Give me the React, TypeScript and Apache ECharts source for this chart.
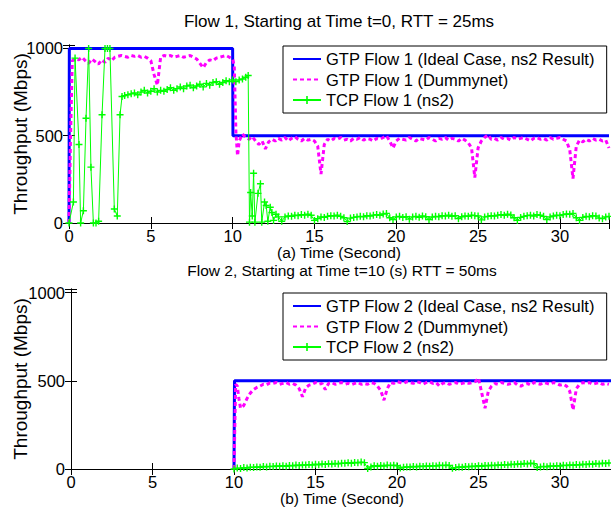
import React, { useEffect, useRef } from "react";
import * as echarts from "echarts";

// ---------- data (Mbps vs seconds) ----------
const STEP = 0.2; // sampling step of the regularly sampled segments
const xTickLabels = [0, 5, 10, 15, 20, 25, 30];
const yTickLabels = [0, 500, 1000];

const NAMES1 = [
  "GTP Flow 1 (Ideal Case, ns2 Result)",
  "GTP Flow 1 (Dummynet)",
  "TCP Flow 1 (ns2)",
];
const NAMES2 = [
  "GTP Flow 2 (Ideal Case, ns2 Result)",
  "GTP Flow 2 (Dummynet)",
  "TCP Flow 2 (ns2)",
];

// Flow 1
const ideal1: number[][] = [[0, 0], [0.02, 1000], [10.0, 1000], [10.02, 500], [33, 500]];
const dummy1Head: number[][] = [[0, 0], [0.1, 520], [0.2, 930]];
const dummy1AStart = 0.4;
const dummy1A = [
  940, 935, 950, 930, 915, 940, 925, 910, 935, 920,
  945, 930, 950, 955, 960, 955, 950, 960, 955, 960,
  950, 955, 945, 930, 850, 790, 950, 960, 955, 960,
  950, 955, 960, 950, 955, 960, 950, 940, 915, 890,
  920, 935, 930, 945, 950, 955, 960, 950, 940,
];
const dummy1Mid: number[][] = [[10.1, 900], [10.2, 520], [10.3, 385], [10.4, 470], [10.6, 510]];
const dummy1BStart = 10.8;
const dummy1B = [
  490, 480, 495, 470, 450, 470, 425, 465, 480, 470,
  485, 475, 490, 470, 485, 495, 480, 470, 485, 475,
  480, 470, 440, 280, 450, 480, 470, 485, 480, 490,
  475, 480, 470, 485, 480, 490, 475, 485, 480, 470,
  485, 480, 490, 500, 470, 430, 470, 485, 480, 475,
  490, 480, 470, 485, 480, 475, 490, 480, 470, 485,
  480, 490, 475, 485, 480, 470, 485, 475, 460, 430,
  260, 430, 470, 490, 505, 480, 485, 475, 490, 480,
  485, 475, 490, 480, 485, 490, 480, 470, 485, 490,
  480, 485, 475, 490, 480, 485, 490, 480, 470, 420,
  255, 440, 475, 465, 480, 470, 485, 475, 480, 470,
  475, 430,
];
const tcp1Head: number[][] = [
  [0, 0], [0.27, 120], [0.37, 945], [0.61, 450], [0.71, 0], [0.88, 70],
  [1.04, 600], [1.2, 1000], [1.34, 320], [1.49, 0], [1.65, 0], [1.81, 10],
  [2.02, 620], [2.2, 1000], [2.35, 1000], [2.5, 1000], [2.77, 80], [2.95, 40],
  [3.12, 620], [3.24, 725],
];
const tcp1AStart = 3.4;
const tcp1A = [
  730, 735, 740, 745, 735, 750, 760, 745, 755, 770,
  750, 760, 755, 765, 775, 760, 770, 780, 770, 785,
  790, 775, 785, 795, 780, 800, 790, 805, 810, 795,
  805, 815, 810, 820, 810, 820, 825, 835,
];
const tcp1Mid: number[][] = [
  [10.95, 845], [11.03, 5], [11.1, 175], [11.2, 40], [11.28, 285], [11.36, 5],
  [11.55, 170], [11.7, 225], [11.78, 5], [11.95, 120], [12.05, 100], [12.15, 10],
  [12.3, 90], [12.4, 60], [12.5, 15], [12.65, 50], [12.8, 35],
];
const tcp1BStart = 13.0;
const tcp1B = [
  10, 35, 40, 38, 45, 42, 48, 45, 50, 44,
  15, 25, 35, 32, 38, 42, 40, 45, 38, 30,
  8, 28, 32, 35, 38, 36, 42, 40, 45, 48,
  44, 52, 55, 30, 20, 35, 38, 32, 36, 22,
  35, 38, 33, 40, 36, 20, 34, 38, 36, 42,
  40, 44, 38, 42, 25, 36, 40, 38, 45, 42,
  40, 18, 35, 38, 42, 40, 45, 48, 44, 50,
  46, 30, 15, 32, 38, 42, 45, 40, 48, 44,
  38, 20, 35, 40, 45, 42, 48, 52, 50, 55,
  30, 15, 32, 38, 36, 42, 40, 28, 25, 35,
  38,
];

// Flow 2
const ideal2: number[][] = [[10, 0], [10.03, 500], [33.4, 500]];
const dummy2Head: number[][] = [
  [10.0, 0], [10.1, 480], [10.2, 470], [10.3, 400], [10.4, 345], [10.6, 360],
  [10.8, 400], [11.0, 430], [11.2, 450], [11.4, 462], [11.6, 470], [11.8, 480],
  [12.0, 478], [12.2, 488],
];
const dummy2Start = 12.4;
const dummy2 = [
  485, 490, 480, 485, 490, 480, 485, 475, 455, 410,
  460, 475, 480, 490, 480, 485, 450, 485, 490, 480,
  485, 490, 480, 485, 478, 485, 490, 480, 485, 480,
  490, 485, 470, 445, 390, 455, 490, 485, 495, 490,
  485, 495, 490, 485, 495, 490, 480, 490, 495, 485,
  490, 470, 485, 490, 480, 485, 490, 480, 485, 490,
  485, 490, 495, 515, 430, 345, 440, 470, 485, 480,
  490, 485, 480, 485, 490, 475, 470, 480, 485, 475,
  490, 485, 480, 490, 485, 480, 490, 485, 475, 480,
  470, 440, 335, 455, 480, 490, 485, 490, 480, 485,
  490, 480, 485, 480,
];
const tcp2Start = 10.0;
const tcp2 = [
  0, 5, 3, 8, 6, 10, 9, 12, 10, 14,
  12, 15, 14, 17, 15, 19, 16, 20, 18, 22,
  20, 23, 22, 25, 23, 27, 24, 28, 26, 30,
  28, 31, 29, 33, 32, 35, 33, 37, 35, 39,
  36, 3, 12, 18, 15, 20, 17, 22, 19, 21,
  18, 6, 10, 12, 11, 14, 12, 16, 14, 17,
  15, 19, 17, 21, 19, 22, 20, 4, 8, 12,
  10, 14, 13, 16, 14, 18, 16, 20, 18, 21,
  19, 23, 21, 25, 23, 27, 25, 29, 27, 31,
  29, 33, 30, 8, 12, 15, 13, 17, 15, 19,
  17, 21, 19, 23, 21, 25, 23, 27, 25, 29,
  27, 31, 29, 33, 31, 34,
];

// ---------- helpers ----------
const sampled = (start: number, values: number[]): number[][] =>
  values.map((v, i) => [Math.round((start + i * STEP) * 100) / 100, v]);

const FONT = "'Liberation Sans', Arial, Helvetica, sans-serif";
const PLUS = "path://M4,0H6V4H10V6H6V10H4V6H0V4H4Z";
const BLUE = "#0000ff";
const MAGENTA = "#ff00ff";
const GREEN = "#00ff00";

export default function App() {
  const ref = useRef<HTMLDivElement>(null);

  useEffect(() => {
    if (!ref.current) return;
    const chart = echarts.init(ref.current, undefined, { renderer: "svg" });

    const dummy1 = [...dummy1Head, ...sampled(dummy1AStart, dummy1A), ...dummy1Mid, ...sampled(dummy1BStart, dummy1B)];
    const tcp1 = [...tcp1Head, ...sampled(tcp1AStart, tcp1A), ...tcp1Mid, ...sampled(tcp1BStart, tcp1B)];
    const dummy2All = [...dummy2Head, ...sampled(dummy2Start, dummy2)];
    const tcp2All = sampled(tcp2Start, tcp2);

    const grids = [
      { left: 69, top: 45, width: 540, height: 178 },
      { left: 71, top: 289, width: 542, height: 180 },
    ];
    const xMax = [33, 33.25];
    const xNames = ["(a) Time (Second)", "(b) Time (Second)"];
    const yGaps = [39, 41];

    const xLab = (v: number) => (xTickLabels.includes(v) ? String(v) : "");
    const yLab = (v: number) => (yTickLabels.includes(v) ? String(v) : "");

    const axisLine = { show: true, lineStyle: { color: "#000", width: 1 } };
    const tick = { show: true, inside: true, length: 6, lineStyle: { color: "#000" } };

    const xAxis: any[] = [];
    const yAxis: any[] = [];
    [0, 1].forEach((g) => {
      xAxis.push({
        type: "value", gridIndex: g, position: "bottom", min: 0, max: xMax[g], interval: 5,
        axisLine, axisTick: tick, splitLine: { show: false },
        axisLabel: { formatter: xLab, color: "#000", fontSize: 16.5, fontFamily: FONT, margin: 4 },
        name: xNames[g], nameLocation: "middle", nameGap: 22, nameMoveOverlap: false,
        nameTextStyle: { color: "#000", fontSize: 15.5, fontFamily: FONT, lineHeight: 15 },
      });
      xAxis.push({
        type: "value", gridIndex: g, position: "top", min: 0, max: xMax[g], interval: 5,
        axisLine, axisTick: tick, splitLine: { show: false }, axisLabel: { show: false },
      });
      yAxis.push({
        type: "value", gridIndex: g, position: "left", min: 0, max: 1020, interval: 500,
        axisLine, axisTick: tick, splitLine: { show: false },
        axisLabel: { formatter: yLab, color: "#000", fontSize: 16.5, fontFamily: FONT, margin: 6 },
        name: "Throughput (Mbps)", nameLocation: "middle", nameGap: yGaps[g], nameMoveOverlap: false,
        nameTextStyle: { color: "#000", fontSize: 19, fontFamily: FONT },
      });
      yAxis.push({
        type: "value", gridIndex: g, position: "right", min: 0, max: 1020, interval: 500,
        axisLine, axisTick: tick, splitLine: { show: false }, axisLabel: { show: false },
      });
    });

    const mk = (g: number, names: string[], ideal: number[][], dummy: number[][], tcp: number[][]) => [
      {
        name: names[0], type: "line", xAxisIndex: g * 2, yAxisIndex: g * 2, data: ideal,
        symbol: "none", lineStyle: { color: BLUE, width: 3 }, itemStyle: { color: BLUE }, z: 2,
      },
      {
        name: names[1], type: "line", xAxisIndex: g * 2, yAxisIndex: g * 2, data: dummy,
        symbol: "none", lineStyle: { color: MAGENTA, width: 3, type: [4, 3] }, itemStyle: { color: MAGENTA }, z: 3,
      },
      {
        name: names[2], type: "line", xAxisIndex: g * 2, yAxisIndex: g * 2, data: tcp,
        symbol: PLUS, symbolSize: 7, showSymbol: true,
        lineStyle: { color: GREEN, width: 1 }, itemStyle: { color: GREEN }, z: 4,
      },
    ];

    const legendData = (names: string[]) => [
      { name: names[0], itemStyle: { opacity: 0 } },
      { name: names[1], itemStyle: { opacity: 0 } },
      { name: names[2] },
    ];

    const legendCommon = {
      orient: "vertical", left: 283, backgroundColor: "#fff", borderColor: "#000", borderWidth: 1,
      padding: [4, 12, 4, 9], itemGap: 2.5, itemWidth: 28, itemHeight: 10, selectedMode: false,
      textStyle: { color: "#000", fontSize: 16.5, fontFamily: FONT, lineHeight: 18 },
    };

    chart.setOption({
      animation: false,
      backgroundColor: "#fff",
      grid: grids.map((g) => ({ ...g, show: false, containLabel: false, outerBoundsMode: "none" })),
      xAxis,
      yAxis,
      legend: [
        { ...legendCommon, top: 46, data: legendData(NAMES1) },
        { ...legendCommon, top: 293, data: legendData(NAMES2) },
      ],
      graphic: [
        {
          type: "text", x: 339, y: 21,
          style: { text: "Flow 1, Starting at Time t=0, RTT = 25ms", align: "center", verticalAlign: "middle", fill: "#000", font: `17px ${FONT}` },
        },
        {
          type: "text", x: 342, y: 270,
          style: { text: "Flow 2, Starting at Time t=10 (s) RTT = 50ms", align: "center", verticalAlign: "middle", fill: "#000", font: `15.5px ${FONT}` },
        },
      ],
      series: [...mk(0, NAMES1, ideal1, dummy1, tcp1), ...mk(1, NAMES2, ideal2, dummy2All, tcp2All)],
    });

    return () => chart.dispose();
  }, []);

  return (
    <div
      ref={ref}
      style={{ position: "fixed", left: 0, top: 0, width: 611, height: 508, background: "#fff" }}
    />
  );
}
